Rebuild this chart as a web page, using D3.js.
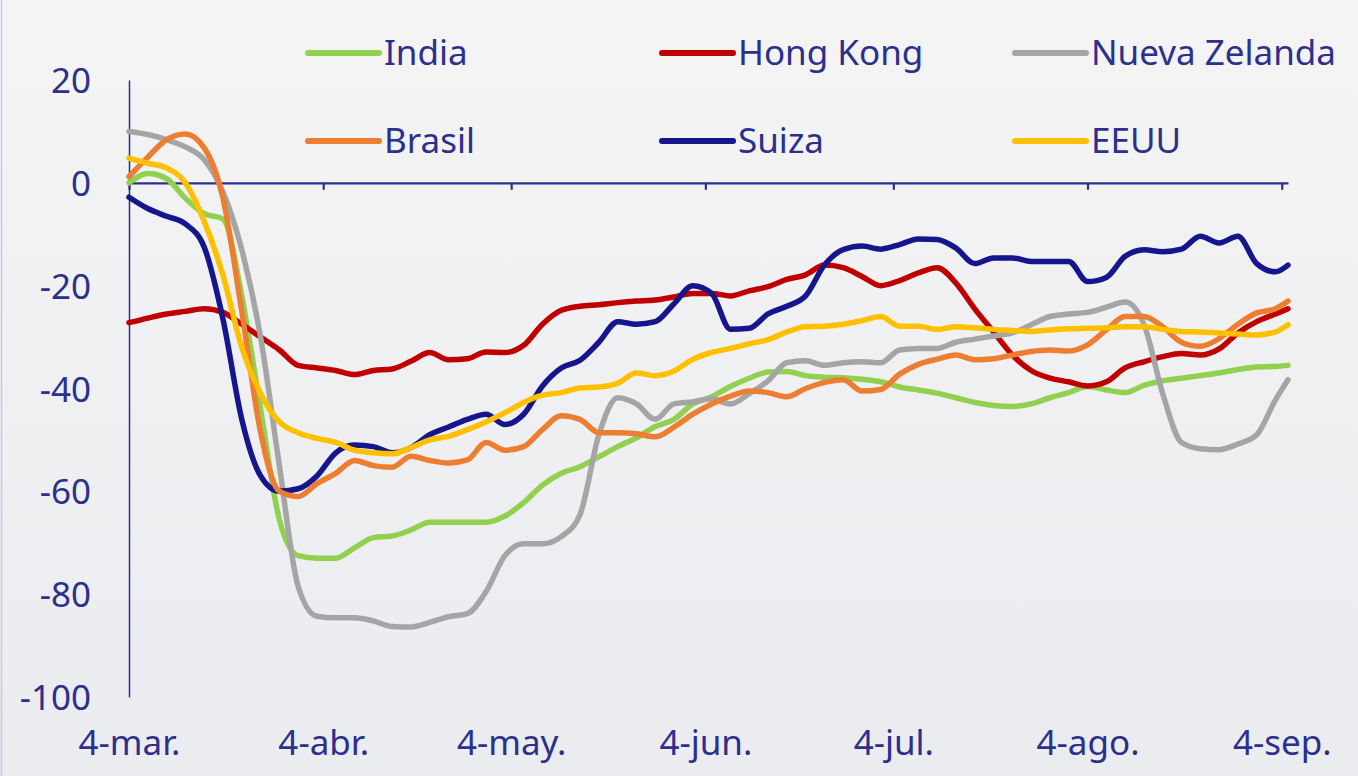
<!DOCTYPE html>
<html>
<head>
<meta charset="utf-8">
<script src="https://cdnjs.cloudflare.com/ajax/libs/d3/7.8.5/d3.min.js"></script>
<style>
  body { margin: 0; background: #f1f1f3; }
  svg { display: block; }
  text { font-family: "Noto Sans", sans-serif; fill: #2c2f8e; }
</style>
</head>
<body>
<div id="chart"></div>
<script>
// days since 4-mar (2020), one reading every 3 days
var dayOffsets = [0, 3, 6, 9, 12, 15, 18, 21, 24, 27, 30, 33, 36, 39, 42, 45, 48, 51, 54, 57,
    60, 63, 66, 69, 72, 75, 78, 81, 84, 87, 90, 93, 96, 99, 102, 105, 108, 111, 114, 117,
    120, 123, 126, 129, 132, 135, 138, 141, 144, 147, 150, 153, 156, 159, 162, 165, 168, 171, 174, 177,
    180, 183, 185];

var india = [0, 1.8, 0.8, -3, -6, -7, -22, -44, -65.5, -72.5, -73, -73, -71, -69, -68.7, -67.5, -66, -66, -66, -66,
    -64.8, -62.2, -58.8, -56.5, -55.2, -53.3, -51.3, -49.6, -47.4, -46, -43, -41.6, -39.6, -38, -36.8, -36.7, -37.5, -37.8, -37.9, -38.2,
    -38.7, -39.7, -40.3, -40.9, -41.8, -42.7, -43.3, -43.5, -43, -41.8, -40.8, -39.6, -40.3, -40.8, -39.4, -38.5, -38, -37.5, -37, -36.3,
    -35.8, -35.7, -35.5];

var hongKong = [-27.2, -26.3, -25.5, -25, -24.5, -25.2, -27.5, -30, -32.5, -35.5, -36, -36.5, -37.3, -36.5, -36.2, -34.7, -33, -34.4, -34.2, -32.9,
    -33, -31.6, -27.5, -24.8, -24, -23.7, -23.3, -23, -22.8, -22.2, -21.5, -21.5, -22, -21, -20.2, -18.8, -17.9, -16, -16.5, -18.2,
    -20, -19, -17.5, -16.5, -19.5, -24.5, -29, -33.5, -36.5, -38, -38.7, -39.5, -38.7, -36, -34.8, -33.8, -33.2, -33.5, -32.3, -29.2,
    -27, -25.5, -24.5];

var nuevaZelanda = [10, 9.4, 8.4, 7, 4.5, -1.8, -13, -30, -55, -78.5, -84.3, -84.6, -84.6, -85.2, -86.3, -86.4, -85.5, -84.4, -83.8, -79.5,
    -72.5, -70.2, -70.2, -68.8, -64.5, -49, -41.8, -43, -46, -43, -42.6, -42, -43, -41, -38.5, -35, -34.6, -35.5, -35, -34.8,
    -35, -32.5, -32.2, -32.2, -31, -30.4, -29.8, -29.2, -27.6, -26, -25.5, -25.2, -24.2, -23.2, -27.5, -41, -50.5, -51.7, -51.9, -50.8,
    -49, -42.2, -38.3];

var brasil = [1.2, 5, 8.4, 9.5, 6.8, -3, -25, -48.5, -60, -61, -58.5, -56.5, -54, -55, -55.3, -53.2, -54, -54.5, -53.9, -50.5,
    -52, -51.3, -48, -45.3, -46, -48.6, -48.6, -48.8, -49.4, -47.5, -45, -43, -41.5, -40.5, -40.8, -41.6, -40, -38.8, -38.3, -40.5,
    -40.2, -37.2, -35.3, -34.3, -33.5, -34.4, -34.2, -33.5, -32.8, -32.5, -32.7, -31.5, -28.6, -26, -26, -28, -31, -31.8, -30.3, -27.5,
    -25.3, -24.5, -23];

var suiza = [-2.8, -5, -6.5, -8, -12.5, -26.5, -46, -57, -60, -59.5, -57, -52.5, -51, -51.3, -52.5, -51.5, -49, -47.5, -46, -45,
    -47, -45, -39.5, -36, -34.5, -31, -27, -27.5, -27, -23.5, -20, -21.5, -28.5, -28.3, -25.5, -24, -22, -16, -13, -12.3,
    -12.9, -12, -10.9, -11, -12.7, -15.7, -14.6, -14.6, -15.3, -15.3, -15.3, -19.2, -18.4, -14.3, -13, -13.4, -12.9, -10.4, -11.7, -10.4,
    -15.7, -17.3, -16];

var eeuu = [4.8, 3.8, 2.9, 0, -7.5, -18, -32, -41, -46.5, -48.6, -49.7, -50.5, -52, -52.5, -52.7, -51.5, -50, -49.3, -48, -46.5,
    -44.7, -42.7, -41.3, -40.8, -39.9, -39.7, -39, -37, -37.5, -36.6, -34.3, -33, -32.2, -31.3, -30.5, -29, -28, -27.9, -27.5, -26.8,
    -26, -27.9, -27.9, -28.5, -28, -28.2, -28.5, -28.7, -28.9, -28.6, -28.4, -28.3, -28.2, -28, -28, -28.5, -28.9, -29, -29.2, -29.4,
    -29.6, -29, -27.6];

var yTicks = [20, 0, -20, -40, -60, -80, -100];
var xTickLabels = ["4-mar.", "4-abr.", "4-may.", "4-jun.", "4-jul.", "4-ago.", "4-sep."];
var xTickDates = ["2020-03-04", "2020-04-04", "2020-05-04", "2020-06-04", "2020-07-04", "2020-08-04", "2020-09-04"];

// series in drawing order (legend keeps its own order below)
var seriesList = [
    { name: "India", values: india, color: "#92d050" },
    { name: "Hong Kong", values: hongKong, color: "#c00000" },
    { name: "Nueva Zelanda", values: nuevaZelanda, color: "#a5a5a5" },
    { name: "Suiza", values: suiza, color: "#15158e" },
    { name: "Brasil", values: brasil, color: "#ed7d31" },
    { name: "EEUU", values: eeuu, color: "#ffc000" }
];
var legendOrder = ["India", "Hong Kong", "Nueva Zelanda", "Brasil", "Suiza", "EEUU"];

var svgWidth = 1358;
var svgHeight = 776;

var margin = { top: 80, left: 129 };
var width = 1159;
var height = 617;

var svg = d3.select("#chart")
    .append("svg")
    .attr("width", svgWidth)
    .attr("height", svgHeight);

// slide-like background
var defs = svg.append("defs");
var grad = defs.append("linearGradient")
    .attr("id", "bg")
    .attr("x1", 0).attr("y1", 0).attr("x2", 0).attr("y2", 1);
grad.append("stop").attr("offset", "0%").attr("stop-color", "#f4f4f4");
grad.append("stop").attr("offset", "100%").attr("stop-color", "#ebecf0");

svg.append("rect")
    .attr("width", svgWidth)
    .attr("height", svgHeight)
    .attr("fill", "url(#bg)");

svg.append("line")
    .attr("x1", 1.5).attr("x2", 1.5)
    .attr("y1", 0).attr("y2", svgHeight)
    .attr("stroke", "#c9c9e4")
    .attr("stroke-width", 1.5);

var chartGroup = svg.append("g")
    .attr("transform", `translate(${margin.left}, ${margin.top})`);

var startDate = new Date(Date.UTC(2020, 2, 4));
var parseDay = d3.utcParse("%Y-%m-%d");

var xTimeScale = d3.scaleUtc()
    .domain([startDate, d3.utcDay.offset(startDate, 185)])
    .range([0, width]);

var yLinearScale = d3.scaleLinear()
    .domain([-100, 20])
    .range([height, 0]);

var tickDates = xTickDates.map(parseDay);

// x axis line sits on the zero line, with ticks only
var zeroAxis = chartGroup.append("g")
    .attr("transform", `translate(0, ${yLinearScale(0)})`)
    .call(d3.axisBottom(xTimeScale)
        .tickValues(tickDates)
        .tickSize(7)
        .tickSizeOuter(0)
        .tickFormat(""));
zeroAxis.select(".domain").attr("stroke", "#2c2f8e").attr("stroke-width", 2.2);
zeroAxis.selectAll(".tick line").attr("stroke", "#2c2f8e").attr("stroke-width", 2.2);

// date labels at the bottom of the plot
var labelAxis = chartGroup.append("g")
    .attr("transform", `translate(0, ${height})`)
    .call(d3.axisBottom(xTimeScale)
        .tickValues(tickDates)
        .tickSize(0)
        .tickPadding(33)
        .tickFormat((d, i) => xTickLabels[i]));
labelAxis.select(".domain").remove();
labelAxis.selectAll("text")
    .attr("fill", "#2c2f8e")
    .style("font-size", "35px")
    .style("font-family", "'Noto Sans', sans-serif");

// plain hyphen for negatives, as in the original
var leftAxis = chartGroup.append("g")
    .call(d3.axisLeft(yLinearScale)
        .tickValues(yTicks)
        .tickSize(0)
        .tickSizeOuter(0)
        .tickPadding(38)
        .tickFormat(d => String(d)));
leftAxis.select(".domain").attr("stroke", "#2c2f8e").attr("stroke-width", 1.5);
leftAxis.selectAll("text")
    .attr("fill", "#2c2f8e")
    .attr("dy", "0.36em")
    .style("font-size", "35px")
    .style("font-family", "'Noto Sans', sans-serif");

// lines
var line = d3.line()
    .x((d, i) => xTimeScale(d3.utcDay.offset(startDate, dayOffsets[i])))
    .y(d => yLinearScale(d))
    .curve(d3.curveMonotoneX);

chartGroup.append("g")
    .selectAll("path")
    .data(seriesList)
    .enter()
    .append("path")
    .attr("d", d => line(d.values))
    .attr("fill", "none")
    .attr("stroke", d => d.color)
    .attr("stroke-width", 5.5)
    .attr("stroke-linejoin", "round")
    .attr("stroke-linecap", "round");

// legend, 3 columns x 2 rows
var legendCols = [308, 662, 1015];
var legendRows = [53, 141];

var legend = svg.append("g")
    .selectAll("g")
    .data(legendOrder)
    .enter()
    .append("g")
    .attr("transform", (d, i) => `translate(${legendCols[i % 3]}, ${legendRows[Math.floor(i / 3)]})`);

legend.append("line")
    .attr("x1", 0).attr("x2", 71)
    .attr("y1", 0).attr("y2", 0)
    .attr("stroke", d => seriesList.find(s => s.name === d).color)
    .attr("stroke-width", 6)
    .attr("stroke-linecap", "round");

legend.append("text")
    .attr("x", 76)
    .attr("y", 12)
    .style("font-size", "35px")
    .text(d => d);
</script>
</body>
</html>
